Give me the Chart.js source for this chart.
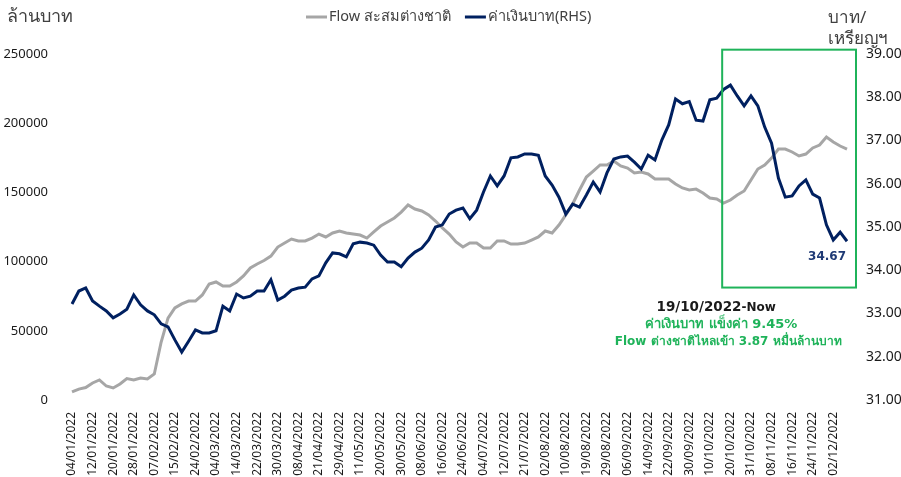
<!DOCTYPE html>
<html lang="th">
<head>
<meta charset="utf-8">
<title>Flow สะสมต่างชาติ กับ ค่าเงินบาท</title>
<script src="https://cdn.jsdelivr.net/npm/chart.js@4.4.0/dist/chart.umd.min.js"></script>
<style>
    html, body { margin: 0; padding: 0; background: #fff; }
    #wrap { position: relative; width: 901px; height: 477px; }
</style>
</head>
<body>
<div id="wrap"><canvas id="flow-chart"></canvas></div>
<script>
// วันที่ที่แสดงบนแกน X (ทุกๆ 3 จุดข้อมูล)
const tickDates = ['04/01/2022', '12/01/2022', '20/01/2022', '28/01/2022', '07/02/2022', '15/02/2022',
    '24/02/2022', '04/03/2022', '14/03/2022', '22/03/2022', '30/03/2022', '08/04/2022', '21/04/2022',
    '29/04/2022', '11/05/2022', '20/05/2022', '30/05/2022', '08/06/2022', '16/06/2022', '24/06/2022',
    '04/07/2022', '12/07/2022', '21/07/2022', '02/08/2022', '10/08/2022', '19/08/2022', '29/08/2022',
    '06/09/2022', '14/09/2022', '22/09/2022', '30/09/2022', '10/10/2022', '20/10/2022', '31/10/2022',
    '08/11/2022', '16/11/2022', '24/11/2022', '02/12/2022'];
const pointsPerTick = 3;

// Flow สะสมต่างชาติ (ล้านบาท)
const flowValues = [5800, 7900, 9000, 12300, 14500, 10100, 8700, 11600, 15500, 14500,
    15900, 15200, 18800, 41900, 59200, 66500, 69400, 71500, 71500, 75900,
    83800, 85300, 82400, 82400, 85300, 89600, 95400, 98300, 100800, 104000,
    110500, 113400, 116300, 114900, 114900, 117000, 119900, 117800, 120700, 122100,
    120700, 119900, 119200, 117000, 121400, 125700, 128600, 131500, 135800, 140900,
    138000, 136600, 133700, 129300, 124300, 119900, 114200, 110500, 113400, 113400,
    109800, 109800, 114900, 114900, 112700, 112700, 113400, 115600, 117800, 122100,
    120700, 126400, 133700, 141600, 151700, 161100, 165400, 169800, 169800, 172700,
    169100, 167600, 164000, 164700, 163300, 159700, 159700, 159700, 156100, 153200,
    151700, 152400, 149600, 145900, 145200, 142300, 144500, 148100, 151000, 159000,
    166900, 169800, 174800, 181300, 181300, 179200, 176300, 177700, 182100, 184200,
    190000, 186400, 183500, 181300];

// ค่าเงินบาท (บาท/เหรียญฯ, RHS)
const bahtValues = [33.22, 33.52, 33.59, 33.29, 33.17, 33.06, 32.90, 32.99, 33.10, 33.43,
    33.20, 33.06, 32.97, 32.76, 32.69, 32.39, 32.11, 32.36, 32.62, 32.55,
    32.55, 32.60, 33.17, 33.06, 33.45, 33.36, 33.40, 33.52, 33.52, 33.78,
    33.31, 33.40, 33.54, 33.59, 33.61, 33.80, 33.87, 34.17, 34.40, 34.38,
    34.31, 34.61, 34.65, 34.63, 34.58, 34.35, 34.19, 34.19, 34.08, 34.28,
    34.42, 34.51, 34.70, 35.00, 35.05, 35.30, 35.39, 35.44, 35.19, 35.39,
    35.81, 36.18, 35.95, 36.18, 36.60, 36.62, 36.69, 36.69, 36.66, 36.18,
    35.97, 35.69, 35.30, 35.53, 35.46, 35.74, 36.04, 35.81, 36.25, 36.57,
    36.62, 36.64, 36.50, 36.34, 36.66, 36.55, 37.01, 37.36, 37.96, 37.85,
    37.90, 37.47, 37.45, 37.94, 37.98, 38.18, 38.28, 38.03, 37.80, 38.03,
    37.80, 37.31, 36.94, 36.13, 35.69, 35.72, 35.95, 36.09, 35.76, 35.67,
    35.05, 34.70, 34.88, 34.67];

// ช่วงที่ไฮไลต์ (19/10/2022 - ปัจจุบัน)
const highlightFrom = 94.8;
const highlightTop = 39.1;
const highlightBottom = 33.6;
const noteLines = [
    { text: '19/10/2022', tail: '-Now', color: '#1a1a1a' },
    { text: 'ค่าเงินบาท แข็งค่า 9.45%', color: '#1fb35a', size: 13, shift: -1 },
    { text: 'Flow ต่างชาติไหลเข้า 3.87 หมื่นล้านบาท', color: '#1fb35a', size: 12, shift: 6 }
];

const FONT = "Tahoma, 'Noto Sans', 'DejaVu Sans', sans-serif";
const NOTE_FONT = "Verdana, 'DejaVu Sans', sans-serif";
const labels = flowValues.map((v, i) => (i % pointsPerTick === 0 ? (tickDates[i / pointsPerTick] || '') : ''));

const overlayPlugin = {
    id: 'overlay',
    afterDraw(chart) {
        const ctx = chart.ctx;
        const area = chart.chartArea;
        const x = chart.scales.x;
        const y1 = chart.scales.y1;
        ctx.save();

        // ชื่อแกน
        ctx.fillStyle = '#404040';
        ctx.font = '18px ' + FONT;
        ctx.textBaseline = 'middle';
        ctx.textAlign = 'left';
        ctx.fillText('ล้านบาท', 7, 17);
        ctx.font = '17px ' + FONT;
        ctx.fillText('บาท/', 828, 18);
        ctx.fillText('เหรียญฯ', 828, 39);

        // คำอธิบายสัญลักษณ์
        ctx.font = '14.5px ' + FONT;
        let lx = 306;
        chart.data.datasets.forEach(ds => {
            ctx.strokeStyle = ds.borderColor;
            ctx.lineWidth = 3;
            ctx.beginPath();
            ctx.moveTo(lx, 17);
            ctx.lineTo(lx + 21, 17);
            ctx.stroke();
            ctx.fillStyle = '#404040';
            ctx.fillText(ds.label, lx + 23, 17);
            lx += 23 + ctx.measureText(ds.label).width + 14;
        });

        // กรอบช่วงเวลา
        const bx = x.getPixelForValue(highlightFrom);
        const by = y1.getPixelForValue(highlightTop);
        const bb = y1.getPixelForValue(highlightBottom);
        ctx.strokeStyle = '#1fb35a';
        ctx.lineWidth = 2;
        ctx.strokeRect(bx, by, area.right + 9 - bx, bb - by);

        // ค่าล่าสุด
        const last = bahtValues.length - 1;
        ctx.fillStyle = '#1f3a75';
        ctx.font = 'bold 12px ' + NOTE_FONT;
        ctx.textAlign = 'right';
        ctx.fillText(bahtValues[last].toFixed(2), x.getPixelForValue(last) - 1, y1.getPixelForValue(bahtValues[last]) + 16);

        // ข้อความสรุป
        noteLines.forEach((line, i) => {
            const ly = bb + 20 + i * 17;
            ctx.fillStyle = line.color;
            if (line.tail) {
                ctx.font = 'bold 13.5px ' + NOTE_FONT;
                const w1 = ctx.measureText(line.text).width;
                ctx.font = 'bold 12px ' + NOTE_FONT;
                const w2 = ctx.measureText(line.tail).width;
                const start = bx - 6 - (w1 + w2) / 2;
                ctx.textAlign = 'left';
                ctx.font = 'bold 13.5px ' + NOTE_FONT;
                ctx.fillText(line.text, start, ly);
                ctx.font = 'bold 12px ' + NOTE_FONT;
                ctx.fillText(line.tail, start + w1, ly);
            } else {
                ctx.textAlign = 'center';
                ctx.font = 'bold ' + line.size + 'px ' + NOTE_FONT;
                ctx.fillText(line.text, bx + line.shift, ly);
            }
        });
        ctx.restore();
    }
};

class FlowChart {
    constructor() {
        this.chart = null;
        this.init();
    }

    init() {
        const ctx = document.getElementById('flow-chart').getContext('2d');
        this.chart = new Chart(ctx, {
            type: 'line',
            data: {
                labels: labels,
                datasets: [
                    {
                        label: 'Flow สะสมต่างชาติ',
                        data: flowValues,
                        yAxisID: 'y',
                        borderColor: '#a6a6a6',
                        borderWidth: 3,
                        pointRadius: 0,
                        tension: 0,
                        order: 2
                    },
                    {
                        label: 'ค่าเงินบาท(RHS)',
                        data: bahtValues,
                        yAxisID: 'y1',
                        borderColor: '#002060',
                        borderWidth: 3,
                        pointRadius: 0,
                        tension: 0,
                        order: 1
                    }
                ]
            },
            options: {
                responsive: true,
                maintainAspectRatio: false,
                animation: false,
                layout: { padding: { top: 54, left: 0, right: 0, bottom: 0 } },
                scales: {
                    x: {
                        grid: { display: false },
                        border: { display: false },
                        ticks: {
                            autoSkip: false,
                            maxRotation: 90,
                            minRotation: 90,
                            padding: 4,
                            color: '#1a1a1a',
                            font: { family: FONT, size: 12 }
                        },
                        afterFit: scale => { scale.height = 77; }
                    },
                    y: {
                        position: 'left',
                        min: 0,
                        max: 250000,
                        grid: { display: false },
                        border: { display: false },
                        ticks: {
                            stepSize: 50000,
                            padding: 16,
                            color: '#1a1a1a',
                            font: { family: FONT, size: 13 },
                            callback: v => String(v)
                        },
                        afterFit: scale => { scale.width = 72; }
                    },
                    y1: {
                        position: 'right',
                        min: 31,
                        max: 39,
                        grid: { display: false },
                        border: { display: false },
                        ticks: {
                            stepSize: 1,
                            padding: 11,
                            color: '#1a1a1a',
                            font: { family: FONT, size: 14 },
                            callback: v => v.toFixed(2)
                        },
                        afterFit: scale => { scale.width = 54; }
                    }
                },
                plugins: {
                    legend: { display: false },
                    tooltip: { enabled: false }
                }
            },
            plugins: [overlayPlugin]
        });
    }
}

document.addEventListener('DOMContentLoaded', () => {
    window.flowChart = new FlowChart();
});
</script>
</body>
</html>
